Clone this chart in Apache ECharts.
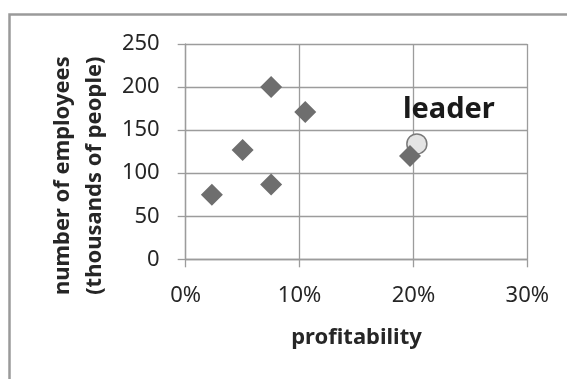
<!DOCTYPE html>
<html>
<head>
<meta charset="utf-8">
<script src="https://cdn.jsdelivr.net/npm/echarts@6/dist/echarts.min.js"></script>
<style>
  html, body { margin: 0; padding: 0; background: #ffffff; }
  #chart { width: 567px; height: 379px; }
</style>
</head>
<body>
<div id="chart"></div>
<script>
// Profitability (share) vs. number of employees (thousands of people)
const profitability = [0.023, 0.05, 0.075, 0.075, 0.105, 0.197];
const employees = [75, 127, 200, 87, 171, 120];

// Highlighted leader company
const leaderProfitability = 0.203;
const leaderEmployees = 134;
const leaderLabel = 'leader';

const xTicks = [0, 0.1, 0.2, 0.3];
const yTicks = [0, 50, 100, 150, 200, 250];

const xAxisTitle = 'profitability';
const yAxisTitle = 'number of employees\n(thousands of people)';

const points = profitability.map((p, i) => [p, employees[i]]);

const chart = echarts.init(document.getElementById('chart'), null, { renderer: 'canvas' });

const gridColor = '#9c9c9c';
const textColor = '#262626';
const regularFont = '"Noto Sans", "DejaVu Sans", sans-serif';

chart.setOption({
  animation: false,
  backgroundColor: '#ffffff',
  graphic: [{
    type: 'rect',
    shape: { x: 9.5, y: 14.5, width: 620, height: 420 },
    style: { fill: 'none', stroke: '#9a9a9a', lineWidth: 2.5 },
    z: -10
  }],
  grid: { left: 185.7, right: 39.7, top: 44, bottom: 119.7, containLabel: false },
  xAxis: {
    type: 'value',
    min: xTicks[0],
    max: xTicks[xTicks.length - 1],
    interval: 0.1,
    name: xAxisTitle,
    nameLocation: 'middle',
    nameGap: 67,
    nameTextStyle: { fontFamily: regularFont, fontWeight: 'bold', fontSize: 22, color: textColor },
    axisLine: { show: true, lineStyle: { color: gridColor, width: 1.3 } },
    axisTick: { show: true, inside: false, length: 8, lineStyle: { color: gridColor, width: 1.3 } },
    axisLabel: {
      margin: 25,
      fontFamily: regularFont, fontSize: 22, color: textColor,
      formatter: v => Math.round(v * 100) + '%'
    },
    splitLine: { show: true, lineStyle: { color: gridColor, width: 1.3 } }
  },
  yAxis: {
    type: 'value',
    min: yTicks[0],
    max: yTicks[yTicks.length - 1],
    interval: 50,
    name: yAxisTitle,
    nameLocation: 'middle',
    nameGap: 75,
    nameRotate: 90,
    nameTextStyle: {
      fontFamily: regularFont, fontWeight: 'bold', fontSize: 22, color: textColor,
      lineHeight: 32, padding: [0, 48, 0, 0]
    },
    axisLine: { show: true, lineStyle: { color: gridColor, width: 1.3 } },
    axisTick: { show: true, inside: false, length: 8, lineStyle: { color: gridColor, width: 1.3 } },
    axisLabel: { margin: 26, fontFamily: regularFont, fontSize: 22, color: textColor },
    splitLine: { show: true, lineStyle: { color: gridColor, width: 1.3 } }
  },
  series: [
    {
      type: 'scatter',
      name: 'leader marker',
      data: [[leaderProfitability, leaderEmployees]],
      symbol: 'circle',
      symbolSize: 20,
      itemStyle: { color: '#e4e4e4', borderColor: '#7a7a7a', borderWidth: 1.5, opacity: 1 },
      label: {
        show: true,
        formatter: leaderLabel,
        position: 'top',
        distance: 6,
        offset: [32, -3],
        fontFamily: regularFont, fontWeight: 'bold', fontSize: 29, color: '#1a1a1a'
      },
      z: 2
    },
    {
      type: 'scatter',
      name: 'companies',
      data: points,
      symbol: 'diamond',
      symbolSize: 22,
      itemStyle: { color: '#6e6e6e', opacity: 1 },
      z: 3
    }
  ]
});
</script>
</body>
</html>
